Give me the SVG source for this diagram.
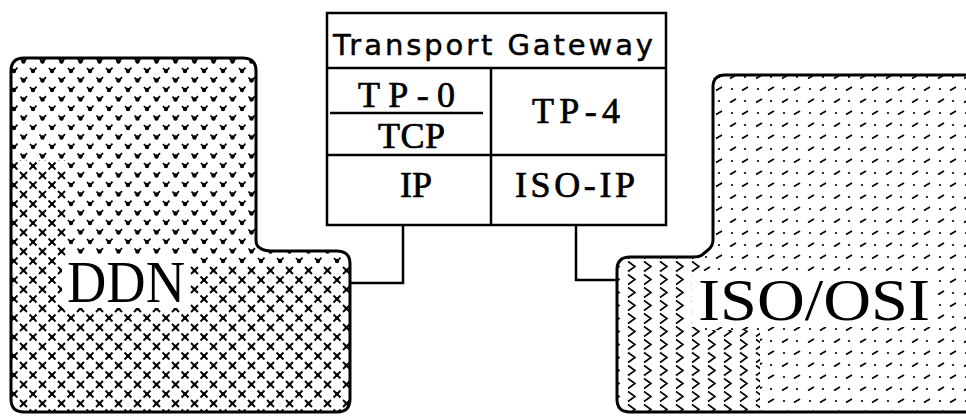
<svg xmlns="http://www.w3.org/2000/svg" width="966" height="418" viewBox="0 0 966 418">
<style>
  .outline{fill:none;stroke:#000;stroke-width:3;stroke-linejoin:round}
  .box{fill:#fff;stroke:#000;stroke-width:2.5}
  .wire{fill:none;stroke:#000;stroke-width:2.5}
  .cell{font-family:"Liberation Serif","DejaVu Serif",serif;font-size:36px;fill:#000;stroke:#000;stroke-width:0.7}
  .title{font-family:"DejaVu Sans","Liberation Sans",sans-serif;font-size:29px;fill:#000;stroke:#000;stroke-width:0.5}
  .big{font-family:"Liberation Serif","DejaVu Serif",serif;font-size:60px;fill:#000}
</style>
<defs>
  <pattern id="ddnDots" width="19" height="19" patternUnits="userSpaceOnUse">
    <path d="M1.5,1.5 L4.5,5 L8,1.2 M11,11 L14,14.5 L17.5,10.7" stroke="#000" stroke-width="1.8" fill="none"/>
    <circle cx="4.5" cy="4.5" r="2.2" fill="#000"/>
    <circle cx="14" cy="14" r="2.2" fill="#000"/>
  </pattern>
  <pattern id="ddnCross" width="19" height="19" patternUnits="userSpaceOnUse">
    <path d="M1,1 L8,8 M8,1 L1,8 M10.5,10.5 L17.5,17.5 M17.5,10.5 L10.5,17.5" stroke="#000" stroke-width="1.9" fill="none"/>
    <circle cx="4.5" cy="4.5" r="1.8" fill="#000"/>
    <circle cx="14" cy="14" r="1.8" fill="#000"/>
  </pattern>
  <pattern id="isoDash" width="26" height="24" patternUnits="userSpaceOnUse">
    <path d="M2,6.5 L8,3 M14,18.5 L20,15" stroke="#000" stroke-width="1.7" fill="none"/>
    <circle cx="17" cy="5" r="1.1" fill="#000"/>
    <circle cx="4" cy="17" r="1.1" fill="#000"/>
  </pattern>
  <pattern id="isoChev" width="16" height="13" patternUnits="userSpaceOnUse">
    <path d="M4,1.5 L11,6.5 L4,11.5" stroke="#000" stroke-width="1.6" fill="none"/>
  </pattern>
  <clipPath id="ddnClip">
    <path d="M24,58 L243,58 Q256,58 256,71 L256,240 Q256,246 260,248 Q264,251 272,251 L337,251 Q350,251 350,264 L350,399 Q350,412 337,412 L24,412 Q11,412 11,399 L11,71 Q11,58 24,58 Z"/>
  </clipPath>
  <clipPath id="isoClip">
    <path d="M980,75 L725,75 Q713,75 713,87 L713,240 Q713,246 708,250 L702,255 Q699,257 693,257 L630,257 Q617,257 617,270 L617,399 Q617,412 630,412 L980,412 Z"/>
  </clipPath>
</defs>

<g id="ddn">
  <path d="M24,58 L243,58 Q256,58 256,71 L256,240 Q256,246 260,248 Q264,251 272,251 L337,251 Q350,251 350,264 L350,399 Q350,412 337,412 L24,412 Q11,412 11,399 L11,71 Q11,58 24,58 Z" fill="url(#ddnDots)"/>
  <g clip-path="url(#ddnClip)">
    <path d="M0,160 L66,160 L66,300 L190,300 L190,265 L360,265 L360,420 L0,420 Z" fill="#fff"/>
    <path d="M0,160 L66,160 L66,300 L190,300 L190,265 L360,265 L360,420 L0,420 Z" fill="url(#ddnCross)"/>
  </g>
  <rect x="62" y="256" width="128" height="52" fill="#fff"/>
  <path class="outline" d="M24,58 L243,58 Q256,58 256,71 L256,240 Q256,246 260,248 Q264,251 272,251 L337,251 Q350,251 350,264 L350,399 Q350,412 337,412 L24,412 Q11,412 11,399 L11,71 Q11,58 24,58 Z"/>
  <text class="big" x="67" y="302" textLength="118" lengthAdjust="spacingAndGlyphs">DDN</text>
</g>

<g id="iso-osi">
  <path d="M980,75 L725,75 Q713,75 713,87 L713,240 Q713,246 708,250 L702,255 Q699,257 693,257 L630,257 Q617,257 617,270 L617,399 Q617,412 630,412 L980,412 Z" fill="url(#isoDash)"/>
  <g clip-path="url(#isoClip)">
    <path d="M610,255 L700,255 L700,330 L760,330 L760,420 L610,420 Z" fill="#fff"/>
    <path d="M610,255 L700,255 L700,330 L760,330 L760,420 L610,420 Z" fill="url(#isoChev)"/>
  </g>
  <rect x="692" y="272" width="245" height="55" fill="#fff"/>
  <path class="outline" d="M980,75 L725,75 Q713,75 713,87 L713,240 Q713,246 708,250 L702,255 Q699,257 693,257 L630,257 Q617,257 617,270 L617,399 Q617,412 630,412 L980,412"/>
  <text class="big" x="698" y="320" textLength="232" lengthAdjust="spacingAndGlyphs">ISO/OSI</text>
</g>

<g id="gateway">
  <rect class="box" x="327" y="13" width="339" height="212"/>
  <line class="wire" x1="327" y1="68" x2="666" y2="68"/>
  <line class="wire" x1="327" y1="155" x2="666" y2="155"/>
  <line class="wire" x1="491" y1="68" x2="491" y2="225"/>
  <line class="wire" x1="330" y1="113" x2="483" y2="113"/>
  <text class="title" x="333" y="55" textLength="320" lengthAdjust="spacing">Transport Gateway</text>
  <text class="cell" x="358" y="107" textLength="97" lengthAdjust="spacing">TP-0</text>
  <text class="cell" x="378" y="148" textLength="67" lengthAdjust="spacing">TCP</text>
  <text class="cell" x="532" y="123" textLength="88" lengthAdjust="spacing">TP-4</text>
  <text class="cell" x="416" y="197" text-anchor="middle">IP</text>
  <text class="cell" x="515" y="197" textLength="120" lengthAdjust="spacing">ISO-IP</text>
</g>

<g id="connectors">
  <path class="wire" d="M403,225 L403,283 L350,283"/>
  <path class="wire" d="M576,225 L576,280 L617,280"/>
</g>
</svg>
